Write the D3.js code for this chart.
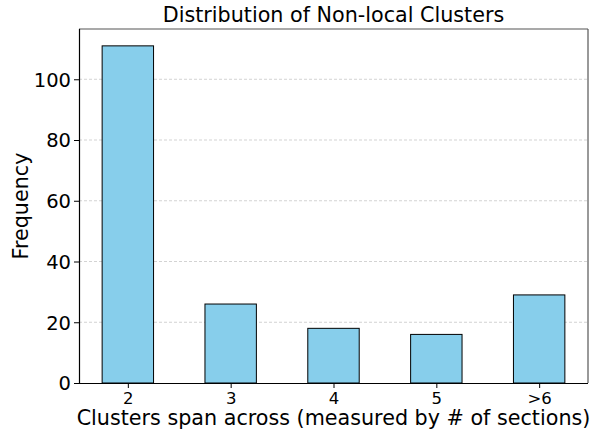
<!DOCTYPE html>
<html>
<head>
<meta charset="utf-8">
<script src="https://cdn.jsdelivr.net/npm/d3@7"></script>
<style>
  body { margin: 0; background: #fff; }
  text { font-family: "DejaVu Sans", sans-serif; fill: #000; }
</style>
</head>
<body>
<script>
var categories = ["2", "3", "4", "5", ">6"];
var frequencies = [111, 26, 18, 16, 29];
var yTicks = [0, 20, 40, 60, 80, 100];

var width = 600, height = 432;
var margin = {top: 29, right: 12, bottom: 49, left: 79};
var plotW = width - margin.left - margin.right;
var plotH = height - margin.top - margin.bottom;

var svg = d3.select("body").append("svg")
    .attr("width", width)
    .attr("height", height);

var g = svg.append("g")
    .attr("transform", "translate(" + margin.left + "," + margin.top + ")");

// bar width 0.5, 5% padding either side
var xScale = d3.scaleLinear()
    .domain([-0.475, categories.length - 1 + 0.475])
    .range([0, plotW]);
var yScale = d3.scaleLinear()
    .domain([0, d3.max(frequencies) * 1.05])
    .range([plotH, 0]);

// grid
g.selectAll(".grid")
    .data(yTicks.slice(1))
    .enter()
    .append("line")
    .attr("x1", 0)
    .attr("x2", plotW)
    .attr("y1", function(d){ return yScale(d); })
    .attr("y2", function(d){ return yScale(d); })
    .attr("stroke", "#c8c8c8")
    .attr("stroke-width", 0.8)
    .attr("stroke-dasharray", "3,2");

// bars
g.selectAll(".bar")
    .data(frequencies)
    .enter()
    .append("rect")
    .attr("x", function(d, i){ return xScale(i - 0.25); })
    .attr("y", function(d){ return yScale(d); })
    .attr("width", xScale(0.25) - xScale(-0.25))
    .attr("height", function(d){ return plotH - yScale(d); })
    .attr("fill", "#87ceeb")
    .attr("stroke", "#000")
    .attr("stroke-width", 1);

// top / right spines
g.append("line").attr("x1", 0).attr("x2", plotW).attr("y1", 0).attr("y2", 0)
    .attr("stroke", "#555").attr("stroke-width", 1.2);
g.append("line").attr("x1", plotW).attr("x2", plotW).attr("y1", 0).attr("y2", plotH)
    .attr("stroke", "#555").attr("stroke-width", 1.2);

// axes
var xAxis = d3.axisBottom(xScale)
    .tickValues(d3.range(categories.length))
    .tickFormat(function(d){ return categories[d]; })
    .tickSize(5).tickPadding(4);
var yAxis = d3.axisLeft(yScale)
    .tickValues(yTicks)
    .tickSize(5).tickPadding(3);

var xg = g.append("g")
    .attr("transform", "translate(0," + plotH + ")")
    .call(xAxis);
xg.select(".domain").attr("d", "M0,0.5H" + plotW).attr("stroke", "#000").attr("stroke-width", 1.2);
xg.selectAll("text").style("font-size", "16.5px");

var yg = g.append("g").call(yAxis);
yg.select(".domain").attr("d", "M0.5,0V" + plotH).attr("stroke", "#000").attr("stroke-width", 1.2);
yg.selectAll("text").style("font-size", "19.5px").attr("dy", "0.35em");

// labels
svg.append("text")
    .attr("x", margin.left + plotW / 2)
    .attr("y", 22)
    .attr("text-anchor", "middle")
    .style("font-size", "20.7px")
    .text("Distribution of Non-local Clusters");

svg.append("text")
    .attr("x", margin.left + plotW / 2)
    .attr("y", 425)
    .attr("text-anchor", "middle")
    .style("font-size", "20.7px")
    .text("Clusters span across (measured by # of sections)");

svg.append("text")
    .attr("transform", "translate(28," + (margin.top + plotH / 2) + ") rotate(-90)")
    .attr("text-anchor", "middle")
    .style("font-size", "20.7px")
    .text("Frequency");
</script>
</body>
</html>
